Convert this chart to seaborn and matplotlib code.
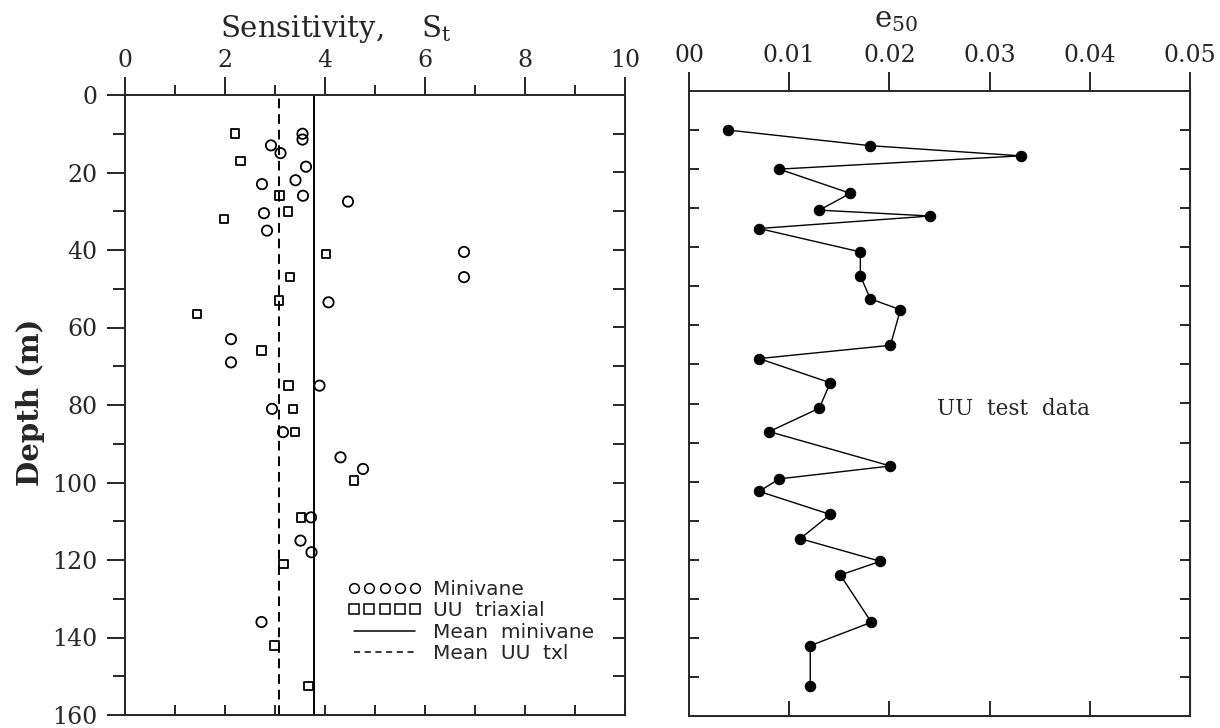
import matplotlib
matplotlib.use("Agg")
import matplotlib.pyplot as plt
from matplotlib.lines import Line2D
import seaborn as sns

# ---------------- data ----------------
minivane_st = [3.55, 3.55, 2.92, 3.11, 3.62, 3.41, 2.74, 3.56, 4.46, 2.78, 2.84,
               6.78, 6.78, 4.07, 2.12, 2.12, 3.89, 2.94, 3.16, 4.31, 4.76, 3.72,
               3.51, 3.73, 2.73]
minivane_depth = [10, 11.5, 13, 15, 18.5, 22, 23, 26, 27.5, 30.5, 35,
                  40.5, 47, 53.5, 63, 69, 75, 81, 87, 93.5, 96.5, 109,
                  115, 118, 136]

uu_st = [2.20, 2.31, 3.09, 3.26, 1.98, 4.02, 3.30, 3.08, 1.44, 2.73,
         3.27, 3.36, 3.40, 4.58, 3.52, 3.17, 2.99, 3.67]
uu_depth = [10, 17, 26, 30, 32, 41, 47, 53, 56.5, 66,
            75, 81, 87, 99.5, 109, 121, 142, 152.5]

mean_minivane = 3.77
mean_uu = 3.08

e50 = [0.0039, 0.0181, 0.0331, 0.0090, 0.0161, 0.0130, 0.0241, 0.0070,
       0.0171, 0.0171, 0.0181, 0.0211, 0.0201, 0.0070, 0.0141, 0.0130,
       0.0080, 0.0201, 0.0090, 0.0070, 0.0141, 0.0111, 0.0191, 0.0151,
       0.0182, 0.0121, 0.0121]
e50_depth = [10, 14, 16.6, 20, 26.2, 30.5, 32, 35.2,
             41.2, 47.3, 53.2, 56, 65.1, 68.5, 74.7, 81.2,
             87.2, 96, 99.3, 102.5, 108.4, 114.6, 120.4, 123.9,
             136, 142, 152.2]

st_ticks = [0, 2, 4, 6, 8, 10]
st_ticklabels = ["0", "2", "4", "6", "8", "10"]
e50_ticks = [0, 0.01, 0.02, 0.03, 0.04, 0.05]
e50_ticklabels = ["00", "0.01", "0.02", "0.03", "0.04", "0.05"]
depth_ticks = [0, 20, 40, 60, 80, 100, 120, 140, 160]
depth_ticklabels = ["0", "20", "40", "60", "80", "100", "120", "140", "160"]
legend_labels = ["Minivane", "UU  triaxial", "Mean  minivane", "Mean  UU  txl"]

# ---------------- style ----------------
sns.set_style("ticks")
plt.rcParams["font.family"] = ["DejaVu Serif"]
plt.rcParams["mathtext.fontset"] = "dejavuserif"

SERIF = "DejaVu Serif"
TICK_FS = 17
LW = 1.4

fig = plt.figure(figsize=(12.2, 7.28), dpi=100)
W, H = 1220, 728
ax1 = fig.add_axes([125 / W, 1 - 715 / H, 500 / W, 620 / H])
ax2 = fig.add_axes([689 / W, 1 - 716 / H, 501 / W, 625 / H])

# ---------------- left panel ----------------
sns.scatterplot(x=minivane_st, y=minivane_depth, ax=ax1, marker="o", s=55,
                facecolor="none", edgecolor="black", linewidth=1.3, zorder=3)
sns.scatterplot(x=uu_st, y=uu_depth, ax=ax1, marker="s", s=38,
                facecolor="none", edgecolor="black", linewidth=1.3, zorder=3)
ax1.axvline(mean_minivane, color="black", lw=1.4)
ax1.axvline(mean_uu, color="black", lw=1.4, ls=(0, (5, 3)))

ax1.set_xlim(0, 10)
ax1.set_ylim(160, 0)
ax1.xaxis.tick_top()
ax1.set_xticks(st_ticks)
ax1.set_xticklabels(st_ticklabels, fontsize=TICK_FS, family=SERIF)
ax1.set_xticks([1, 3, 5, 7, 9], minor=True)
ax1.tick_params(axis="x", which="major", direction="out", length=13, width=LW, pad=3.5)
ax1.tick_params(axis="x", which="minor", direction="out", length=7.2, width=LW)
ax1.set_yticks(depth_ticks)
ax1.set_yticklabels(depth_ticklabels, fontsize=TICK_FS, family=SERIF)
ax1.set_yticks(list(range(10, 160, 20)), minor=True)
ax1.tick_params(axis="y", which="major", direction="out", length=13, width=LW, pad=7)
ax1.tick_params(axis="y", which="minor", direction="out", length=8.6, width=LW)
for s in ax1.spines.values():
    s.set_visible(True)
    s.set_linewidth(LW)

sb = ax1.secondary_xaxis("bottom")
sb.set_xticks(list(range(1, 11)))
sb.tick_params(direction="in", length=7.2, width=LW, labelbottom=False)
sr = ax1.secondary_yaxis("right")
sr.set_yticks(list(range(10, 160, 10)))
sr.tick_params(direction="in", length=8.6, width=LW, labelright=False)

ax1.set_xlabel("")
ax1.set_ylabel("")
fig.text(336 / W, 1 - 37 / H, r"Sensitivity,    S$_\mathrm{t}$", fontsize=21,
         family=SERIF, ha="center", va="baseline")
fig.text(31 / W, 1 - 402 / H, "Depth (m)", fontsize=21, family=SERIF,
         fontweight="bold", rotation=90, ha="center", va="center")

handles = [
    Line2D([], [], ls="None", marker="o", ms=7, mfc="none", mec="black", mew=1.1),
    Line2D([], [], ls="None", marker="s", ms=6.5, mfc="none", mec="black", mew=1.1),
    Line2D([], [], color="black", lw=1.1),
    Line2D([], [], color="black", lw=1.1, ls=(0, (4, 3))),
]
ax1.legend(handles, legend_labels, loc="upper left", bbox_to_anchor=(0.446, 0.218),
           numpoints=5, frameon=False, handlelength=3.65, handletextpad=0.55,
           labelspacing=0.12, borderpad=0, borderaxespad=0,
           prop={"family": "DejaVu Sans", "size": 14.5})

# ---------------- right panel ----------------
sns.lineplot(x=e50, y=e50_depth, ax=ax2, sort=False, estimator=None,
             color="black", lw=1.0, marker="o", markersize=7.5,
             markeredgecolor="black", markerfacecolor="black")
ax2.set_xlim(0, 0.05)
ax2.set_ylim(160, 0)
ax2.xaxis.tick_top()
ax2.set_xticks(e50_ticks)
ax2.set_xticklabels(e50_ticklabels, fontsize=TICK_FS, family=SERIF)
ax2.tick_params(axis="x", direction="out", length=13.7, width=LW, pad=3.5)
ax2.set_yticks(list(range(10, 160, 10)))
ax2.tick_params(axis="y", direction="in", length=7.2, width=LW, labelleft=False)
for s in ax2.spines.values():
    s.set_visible(True)
    s.set_linewidth(LW)
sb2 = ax2.secondary_xaxis("bottom")
sb2.set_xticks([0.01, 0.02, 0.03, 0.04])
sb2.tick_params(direction="in", length=10.8, width=LW, labelbottom=False)
sr2 = ax2.secondary_yaxis("right")
sr2.set_yticks(list(range(10, 160, 10)))
sr2.tick_params(direction="in", length=7.2, width=LW, labelright=False)
ax2.set_xlabel("")
ax2.set_ylabel("")
fig.text(896 / W, 1 - 27 / H, r"e$_{50}$", fontsize=21, family=SERIF,
         ha="center", va="baseline")
ax2.text(0.0248, 81.5, "UU  test  data", fontsize=15.5, family=SERIF,
         ha="left", va="center")

fig.savefig("out.png", dpi=100)
